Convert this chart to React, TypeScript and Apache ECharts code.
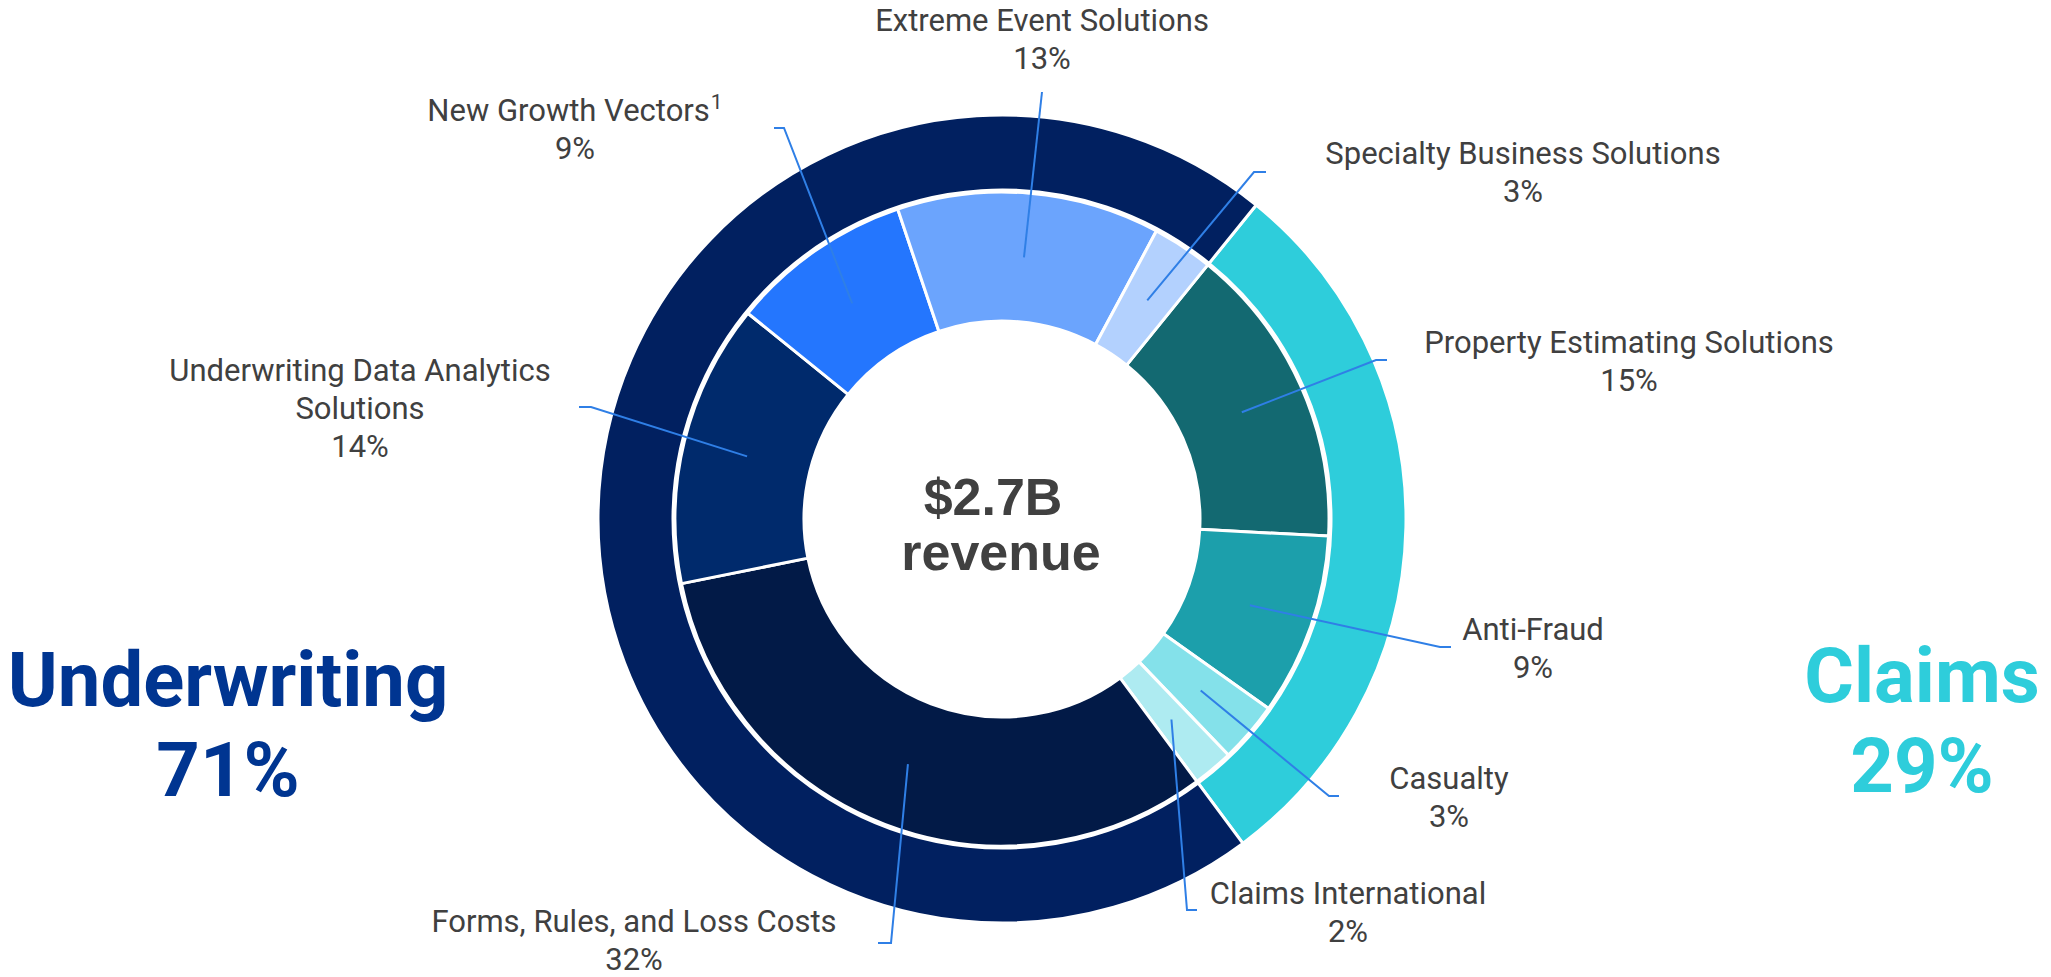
import React, { useEffect, useRef } from 'react';
import * as echarts from 'echarts';

// ---------- data ----------
const segmentNames = [
  'Property Estimating Solutions',
  'Anti-Fraud',
  'Casualty',
  'Claims International',
  'Forms, Rules, and Loss Costs',
  'Underwriting Data Analytics Solutions',
  'New Growth Vectors',
  'Extreme Event Solutions',
  'Specialty Business Solutions',
];
const segmentShares = [15, 9, 3, 2, 32, 14, 9, 13, 3];
const segmentFootnotes = ['', '', '', '', '', '', '1', '', ''];

const groupNames = ['Claims', 'Underwriting'];
const groupShares = [29, 71];

const totalRevenue = '$2.7B';
const centerCaption = 'revenue';

// ---------- styles / layout ----------
const segmentColors = ['#136971', '#1C9FAB', '#84E1EA', '#AEEBF1', '#021A47', '#002A6C', '#2476FE', '#6BA4FD', '#B3D1FE'];
const groupColors = ['#2ECDDB', '#012060'];
const groupTextColors = ['#2ECDDB', '#003591'];

const CX = 1002;
const CY = 519;
const START_ANGLE = 51;
const INNER_R = [198, 327];
const OUTER_R = [329, 404];

const labelAnchors = [
  [1629, 361], [1533, 648], [1449, 797], [1348, 912], [634, 940],
  [360, 408], [575, 129], [1042, 39], [1523, 172],
];
const lineBends = [
  [[1376, 360], [1387, 360]],
  [[1440, 647], [1451, 647]],
  [[1329, 796], [1339, 796]],
  [[1187, 910], [1197, 910]],
  [[891, 943], [878, 943]],
  [[591, 407], [579, 407]],
  [[784, 128], [774, 128]],
  [[1042, 92], [1042, 92]],
  [[1254, 172], [1266, 172]],
];
const groupAnchors = [[1922, 721], [228, 725]];

function segmentAnchor(i: number): number[] {
  const total = segmentShares.reduce((a, b) => a + b, 0);
  let cum = 0;
  for (let j = 0; j < i; j++) cum += segmentShares[j];
  const deg = START_ANGLE - (360 * (cum + segmentShares[i] / 2)) / total;
  const rad = (deg * Math.PI) / 180;
  const r = (INNER_R[0] + INNER_R[1]) / 2;
  return [CX + r * Math.cos(rad), CY - r * Math.sin(rad)];
}

const labelFont = { fontFamily: 'Roboto', fontSize: 31, lineHeight: 38, color: '#404040' };

const segmentData = (colored: boolean) =>
  segmentNames.map((n, i) => ({
    name: n,
    value: segmentShares[i],
    itemStyle: colored
      ? { color: segmentColors[i] }
      : { color: 'rgba(0,0,0,0)', borderWidth: 0 },
  }));

export default function App() {
  const ref = useRef<HTMLDivElement>(null);
  useEffect(() => {
    if (!ref.current) return;
    const chart = echarts.init(ref.current, null, { renderer: 'svg' });
    chart.setOption({
      animation: false,
      backgroundColor: '#ffffff',
      series: [
        {
          type: 'pie',
          z: 1,
          center: [CX, CY],
          radius: OUTER_R,
          startAngle: START_ANGLE,
          clockwise: true,
          avoidLabelOverlap: false,
          emphasis: { disabled: true },
          itemStyle: { borderColor: '#ffffff', borderWidth: 3 },
          label: {
            show: true,
            formatter: (p: any) => `{g${p.dataIndex}|${p.name}}\n{g${p.dataIndex}|${p.value}%}`,
            rich: {
              g0: { fontFamily: 'Roboto', fontWeight: 'bold', fontSize: 76, lineHeight: 90, color: groupTextColors[0] },
              g1: { fontFamily: 'Roboto', fontWeight: 'bold', fontSize: 76, lineHeight: 90, color: groupTextColors[1] },
            },
          },
          labelLine: { show: false },
          labelLayout: (p: any) => ({
            x: groupAnchors[p.dataIndex][0],
            y: groupAnchors[p.dataIndex][1],
            align: 'center',
            verticalAlign: 'middle',
          }),
          data: groupNames.map((n, i) => ({
            name: n,
            value: groupShares[i],
            itemStyle: { color: groupColors[i] },
          })),
        },
        {
          type: 'pie',
          z: 3,
          center: [CX, CY],
          radius: INNER_R,
          startAngle: START_ANGLE,
          clockwise: true,
          emphasis: { disabled: true },
          itemStyle: { borderColor: '#ffffff', borderWidth: 3 },
          label: { show: false },
          labelLine: { show: false },
          data: segmentData(true),
        },
        {
          // transparent overlay carrying the segment labels and their guide lines above the rings
          type: 'pie',
          z: 6,
          silent: true,
          center: [CX, CY],
          radius: INNER_R,
          startAngle: START_ANGLE,
          clockwise: true,
          avoidLabelOverlap: false,
          emphasis: { disabled: true },
          label: {
            show: true,
            position: 'outside',
            align: 'center',
            formatter: (p: any) => {
              const i = p.dataIndex;
              const text = p.name === 'Underwriting Data Analytics Solutions'
                ? 'Underwriting Data Analytics\nSolutions'
                : p.name;
              const lines = text.split('\n').map((s: string) => `{name|${s}}`);
              if (segmentFootnotes[i]) lines[lines.length - 1] += `{sup|${segmentFootnotes[i]}}`;
              return lines.join('\n') + `\n{pct|${p.value}%}`;
            },
            rich: {
              name: labelFont,
              pct: labelFont,
              sup: { fontFamily: 'Roboto', fontSize: 21, lineHeight: 10, verticalAlign: 'top', color: '#404040', padding: [0, 0, 0, 1] },
            },
          },
          labelLine: { show: true, showAbove: true, lineStyle: { color: '#2F7FE6', width: 2 } },
          labelLayout: (p: any) => {
            const i = p.dataIndex;
            return {
              x: labelAnchors[i][0],
              y: labelAnchors[i][1],
              align: 'center',
              verticalAlign: 'middle',
              labelLinePoints: [segmentAnchor(i), lineBends[i][0], lineBends[i][1]],
            };
          },
          data: segmentData(false),
        },
      ],
      graphic: [
        {
          type: 'text',
          x: 993,
          y: 497,
          style: {
            text: totalRevenue,
            fontFamily: '"Liberation Sans", Arial, sans-serif',
            fontWeight: 'bold',
            fontSize: 52,
            fill: '#404040',
            align: 'center',
            verticalAlign: 'middle',
          },
        },
        {
          type: 'text',
          x: 1001,
          y: 552,
          style: {
            text: centerCaption,
            fontFamily: '"Liberation Sans", Arial, sans-serif',
            fontWeight: 'bold',
            fontSize: 52,
            fill: '#404040',
            align: 'center',
            verticalAlign: 'middle',
          },
        },
      ],
    });
    return () => chart.dispose();
  }, []);
  return (
    <div
      ref={ref}
      style={{ position: 'fixed', left: 0, top: 0, width: 2051, height: 977, background: '#fff' }}
    />
  );
}
